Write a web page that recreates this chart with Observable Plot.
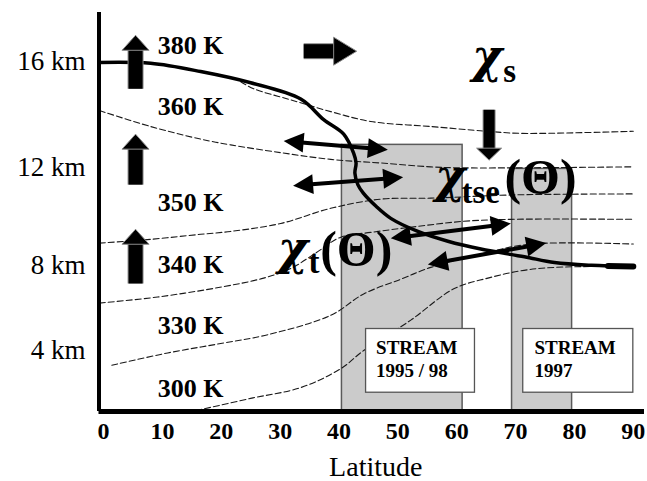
<!DOCTYPE html>
<html>
<head>
<meta charset="utf-8">
<script src="https://cdn.jsdelivr.net/npm/d3@7"></script>
<script src="https://cdn.jsdelivr.net/npm/@observablehq/plot@0.6"></script>
<style>
  body { margin: 0; background: #fff; }
</style>
</head>
<body>
<div id="chart"></div>
<script>
// Axis ticks
const latTicks = [0, 10, 20, 30, 40, 50, 60, 70, 80, 90];
const kmTicks = [4, 8, 12, 16];

// Tropopause as [latitude, altitude km]
const tropopause = [[-0.7, 15.96], [8.0, 15.93], [16.5, 15.63], [25.0, 15.22], [33.5, 14.62],
  [37.4, 13.85], [40.8, 13.30], [42.5, 12.56], [42.9, 12.19], [42.7, 11.79], [43.2, 11.34],
  [44.1, 11.01], [46.3, 10.47], [48.8, 9.98], [53.4, 9.44], [58.5, 9.03], [64.1, 8.70],
  [71.5, 8.37], [76.6, 8.12], [82.9, 8.0], [90.0, 7.95]];
const tropopausePolar = [[85.7, 7.97], [90.0, 7.95]];

// Isentropes (dashed), [latitude, altitude km]
const isentrope1 = [[23.3, 15.26], [25.5, 15.0], [31.8, 14.59], [38.6, 14.15], [45.4, 13.78],
  [55.6, 13.59], [65.2, 13.41], [70.9, 13.33], [90, 13.41]];
const isentrope2 = [[-0.7, 14.19], [8.0, 13.59], [16.5, 13.11], [21.6, 12.89], [30.1, 12.59],
  [38.6, 12.33], [47.1, 12.19], [55.6, 12.04], [61.2, 12.0], [90, 12.04]];
const isentrope3 = [[-0.7, 8.95], [8.0, 9.11], [16.5, 9.32], [21.6, 9.44], [30.1, 9.77],
  [38.6, 10.39], [47.1, 10.76], [55.6, 10.80], [69.7, 10.93], [90, 10.97]];
const isentrope4 = [[-0.7, 6.31], [9.2, 6.59], [20.4, 7.06], [27.2, 7.44], [31.8, 7.86],
  [36.1, 8.54], [40.3, 9.20], [45.4, 9.40], [53.4, 9.65], [61.2, 9.86], [69.2, 9.94], [90, 9.94]];
const isentrope5 = [[1.4, 3.21], [10.9, 3.87], [19.4, 4.33], [27.9, 4.80], [38.6, 5.74],
  [44.2, 6.73], [50.5, 7.39], [55.6, 7.91], [64.1, 8.49], [72.6, 8.91], [90, 8.91]];
const isentrope6 = [[15.7, 0.13], [25.0, 1.18], [33.5, 1.90], [40.3, 3.02], [44.2, 4.0],
  [52.2, 5.51], [59.5, 6.96], [65.3, 7.44], [70.9, 7.76], [76.6, 7.91], [90, 7.95]];

// Potential temperature labels
const thetaLabels = ["380 K", "360 K", "350 K", "340 K", "330 K", "300 K"];
const thetaLabelLat = [9.2, 9.2, 9.2, 9.2, 9.2, 9.2];
const thetaLabelKm = [16.26, 14.04, 10.27, 7.67, 4.85, 1.25];

// Measurement campaigns (shaded latitude bands)
const campaignLat1 = [40.5, 69.4];
const campaignLat2 = [61.0, 79.6];
const campaignTopKm = [12.89, 11.96];
const campaignNames = ["STREAM\n1995 / 98", "STREAM\n1997"];
const campaignBoxLat1 = [44.6, 71.3];
const campaignBoxLat2 = [63.1, 90.0];
const campaignBoxKm = [1.57, 5.08];
const campaignTextLat = [46.3, 73.2];
const campaignTextKm = 2.56;

// Two-way exchange (mixing) arrows
const mixingFromLat = [30.6, 32.2, 48.8, 55.1];
const mixingFromKm = [13.04, 11.30, 9.15, 8.04];
const mixingToLat = [48.3, 50.9, 69.2, 75.2];
const mixingToKm = [12.70, 11.63, 9.77, 8.95];

// Mean circulation: tropical ascent, poleward transport, extratropical descent
const ascentLat = [5.44, 5.44, 5.44];
const ascentFromKm = [15.0, 11.34, 7.2];
const ascentToKm = [16.94, 13.3, 9.53];
const polewardFromLat = [34.0];
const polewardToLat = [43.0];
const polewardKm = [16.37];
const descentLat = [65.5];
const descentFromKm = [14.22];
const descentToKm = [12.30];

// Exchange-rate symbols: chi, subscript, argument
const chiText = ["χ", "χ", "χ"];
const chiLat = [62.6, 56.3, 29.6];
const chiKm = [15.63, 11.05, 8.04];
const subText = ["s", "tse", "t"];
const subLat = [67.9, 60.8, 34.8];
const subKm = [15.26, 10.6, 7.67];
const argText = ["(Θ)", "(Θ)"];
const argLat = [68.1, 36.8];
const argKm = [10.97, 7.95];

// ---------------------------------------------------------------------------
const W = 647, H = 481;
const xScale = {domain: [-0.77, 91.9], range: [98.5, 644]};
// altitude axis is stretched aloft: power scale
const yScale = {type: "pow", exponent: 1.26, domain: [0, 17.75], range: [411, 12]};
const X = Plot.scale({x: xScale});
const Y = Plot.scale({y: yScale});
const heading = (x1, y1, x2, y2) => {
  const dx = X.apply(x2) - X.apply(x1), dy = Y.apply(y2) - Y.apply(y1);
  return Math.atan2(dx, -dy) * 180 / Math.PI;
};
// filled arrowhead, tip at the origin, pointing up before rotation
const head = (w, h) => ({draw(ctx) { ctx.moveTo(0, 0); ctx.lineTo(-w / 2, h); ctx.lineTo(w / 2, h); ctx.closePath(); }});

const toRows = (pts, id) => pts.map(([lat, km]) => ({lat, km, id}));
const isoRows = [isentrope1, isentrope2, isentrope3, isentrope4, isentrope5, isentrope6]
  .flatMap((p, i) => toRows(p, i));

const thetaRows = thetaLabels.map((t, i) => ({t, lat: thetaLabelLat[i], km: thetaLabelKm[i]}));
const campaignRows = campaignLat1.map((a, i) => ({lat1: a, lat2: campaignLat2[i], top: campaignTopKm[i]}));
const boxRows = campaignNames.map((name, i) => ({name, lat1: campaignBoxLat1[i], lat2: campaignBoxLat2[i], tlat: campaignTextLat[i]}));

const mixRows = mixingFromLat.map((a, i) => ({x1: a, y1: mixingFromKm[i], x2: mixingToLat[i], y2: mixingToKm[i]}));
const mixHeads = mixRows.flatMap(r => [
  {x: r.x2, y: r.y2, a: heading(r.x1, r.y1, r.x2, r.y2)},
  {x: r.x1, y: r.y1, a: heading(r.x2, r.y2, r.x1, r.y1)}
]);

const upRows = ascentLat.map((x, i) => ({x1: x, y1: ascentFromKm[i], x2: x, y2: ascentToKm[i]}));
const rightRows = polewardFromLat.map((x, i) => ({x1: x, y1: polewardKm[i], x2: polewardToLat[i], y2: polewardKm[i]}));
const downRows = descentLat.map((x, i) => ({x1: x, y1: descentFromKm[i], x2: x, y2: descentToKm[i]}));
const tipOf = rows => rows.map(r => ({x: r.x2, y: r.y2, a: heading(r.x1, r.y1, r.x2, r.y2)}));

const serif = "Liberation Serif";
const txt = {fontFamily: serif, textAnchor: "start", lineAnchor: "bottom"};

function blockArrow(rows, shaft, w, h) {
  const ch = {x1: "x1", y1: "y1", x2: "x2", y2: "y2", headLength: 0, insetEnd: h - 1, strokeLinecap: "butt"};
  return [
    Plot.arrow(rows, {...ch, stroke: "#8a8a8a", strokeWidth: shaft + 2}),
    Plot.arrow(rows, {...ch, stroke: "#000", strokeWidth: shaft}),
    Plot.dot(tipOf(rows), {x: "x", y: "y", rotate: "a", symbol: head(w, h), fill: "#000", stroke: "#8a8a8a", strokeWidth: 1, r: 5})
  ];
}

const chart = Plot.plot({
  width: W,
  height: H,
  marginLeft: 98.5,
  marginRight: 3,
  marginTop: 12,
  marginBottom: 70,
  x: xScale,
  y: yScale,
  style: {fontFamily: serif, background: "#fff", color: "#000"},
  marks: [
    // shaded campaign latitude bands
    Plot.rect(campaignRows, {x1: "lat1", x2: "lat2", y1: 0, y2: "top", fill: "#cbcbcb", stroke: "#5a5a5a", strokeWidth: 1.5}),
    // isentropes
    Plot.line(isoRows, {x: "lat", y: "km", z: "id", curve: "catmull-rom", stroke: "#1a1a1a", strokeWidth: 1.1, strokeDasharray: "6,3"}),
    // campaign name boxes
    Plot.rect(boxRows, {x1: "lat1", x2: "lat2", y1: campaignBoxKm[0], y2: campaignBoxKm[1], fill: "#fff", stroke: "#555", strokeWidth: 1.3}),
    Plot.text(boxRows, {...txt, x: "tlat", y: campaignTextKm, text: "name", lineHeight: 1.21, fontSize: 19, fontWeight: "bold"}),
    // frame axes
    Plot.ruleY([0], {x1: xScale.domain[0], x2: xScale.domain[1], strokeWidth: 5, stroke: "#000"}),
    Plot.ruleX([xScale.domain[0]], {y1: 0, y2: yScale.domain[1], strokeWidth: 4, stroke: "#000"}),
    // tropopause
    Plot.line(tropopause, {x: d => d[0], y: d => d[1], curve: "catmull-rom", stroke: "#000", strokeWidth: 3.5}),
    Plot.line(tropopausePolar, {x: d => d[0], y: d => d[1], stroke: "#000", strokeWidth: 6}),
    // two-way exchange arrows
    Plot.arrow(mixRows, {x1: "x1", y1: "y1", x2: "x2", y2: "y2", headLength: 0, insetStart: 12, insetEnd: 12, stroke: "#000", strokeWidth: 4}),
    Plot.dot(mixHeads, {x: "x", y: "y", rotate: "a", symbol: head(20, 20), fill: "#000", r: 5}),
    // mean circulation block arrows
    ...blockArrow(upRows, 14, 27, 15),
    ...blockArrow(rightRows, 14, 28, 23),
    ...blockArrow(downRows, 11, 25, 12),
    // potential temperature labels
    Plot.text(thetaRows, {...txt, x: "lat", y: "km", text: "t", fontSize: 26, fontWeight: "bold"}),
    // exchange-rate symbols
    Plot.text(chiText, {...txt, fontFamily: "DejaVu Serif", x: (d, i) => chiLat[i], y: (d, i) => chiKm[i], text: d => d, fontSize: 46, fontWeight: "bold", fontStyle: "italic"}),
    Plot.text(subText, {...txt, x: (d, i) => subLat[i], y: (d, i) => subKm[i], text: d => d, fontSize: 33, fontWeight: "bold"}),
    Plot.text(argText, {...txt, x: (d, i) => argLat[i], y: (d, i) => argKm[i], text: d => d, fontSize: 50, fontWeight: "bold"}),
    // axes
    Plot.axisX(latTicks, {tickSize: 0, tickPadding: 10, fontSize: 24, fontWeight: "bold", fontFamily: serif, label: null}),
    Plot.axisY(kmTicks, {tickSize: 0, tickPadding: 13.5, fontSize: 27, fontFamily: serif, tickFormat: d => `${d} km`, label: null}),
    Plot.text(["Latitude"], {frameAnchor: "bottom", text: d => d, dy: 64, dx: 4, lineAnchor: "bottom", fontSize: 28, fontFamily: serif})
  ]
});
document.getElementById("chart").append(chart);
</script>
</body>
</html>
